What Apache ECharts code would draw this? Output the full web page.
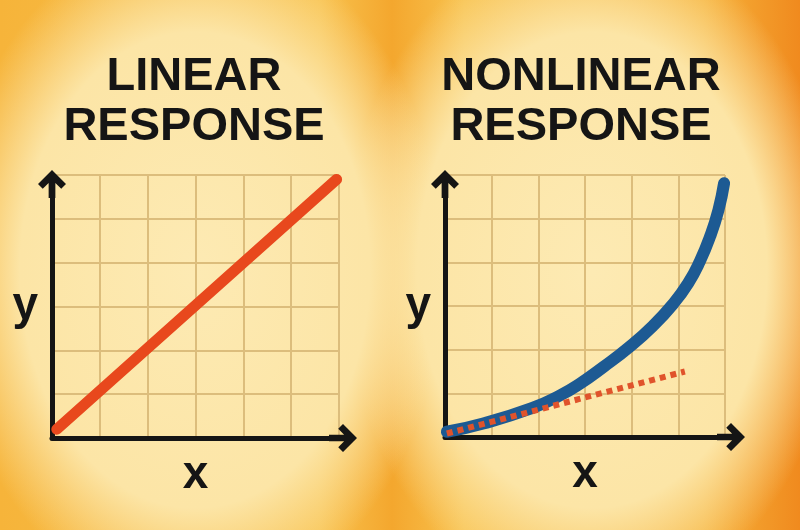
<!DOCTYPE html>
<html>
<head>
<meta charset="utf-8">
<title>Linear vs nonlinear response</title>
<script src="https://cdn.jsdelivr.net/npm/echarts@6/dist/echarts.min.js"></script>
<style>
    html, body {
        margin: 0;
        padding: 0;
    }
    body {
        width: 800px;
        height: 530px;
        overflow: hidden;
        background:
            radial-gradient(ellipse 250px 340px at 195px 270px, #fdeab3 0%, #fce5a6 70%, rgba(250, 205, 110, 0) 100%),
            radial-gradient(ellipse 250px 340px at 592px 270px, #fdeab3 0%, #fce5a6 70%, rgba(250, 205, 110, 0) 100%),
            linear-gradient(90deg, #f6b43a 0%, #f8c24e 40%, #f4a72e 49%, #f8c24e 58%, #f6b23a 88%, #f08a1e 100%);
    }
    #chart {
        width: 800px;
        height: 530px;
    }
</style>
</head>
<body>
<div id="chart"></div>
<script>
// panel titles
const titles = ['LINEAR\nRESPONSE', 'NONLINEAR\nRESPONSE'];
const axisNames = ['x', 'y'];

// left panel: straight response
const linearLine = [[0.1, 0.2], [5.95, 5.9]];

// right panel: curved response and its initial slope
const nonlinearCurve = [
    [0.04, 0.12], [0.82, 0.31], [1.86, 0.66], [2.46, 0.95], [2.89, 1.22],
    [3.39, 1.6], [3.96, 2.07], [4.46, 2.55], [4.89, 3.05], [5.21, 3.52],
    [5.46, 4.02], [5.68, 4.59], [5.86, 5.2], [5.98, 5.81]
];
const tangentLine = [[0.04, 0.08], [5.14, 1.5]];

const INK = '#151515';
const GRID_COLOR = '#dcbd7c';
// open arrow head with a short stem, pointing up
const ARROW = 'path://M50,0 L100,50 L83,67 L62,46 L62,100 L38,100 L38,46 L17,67 L0,50 Z';

const makeAxis = (gridIndex, name, endOffset) => {
    return {
        type: 'value',
        gridIndex,
        min: 0,
        max: 6,
        interval: 1,
        name,
        nameLocation: 'middle',
        nameGap: 14,
        nameRotate: 0,
        nameTextStyle: {
            fontFamily: 'Liberation Sans',
            fontWeight: 'bold',
            fontSize: 46,
            color: INK
        },
        axisLine: {
            onZero: false,
            symbol: ['none', ARROW],
            symbolSize: [28, 28],
            symbolOffset: [0, endOffset],
            lineStyle: { color: INK, width: 5 }
        },
        axisTick: { show: false },
        axisLabel: { show: false },
        splitLine: {
            show: true,
            lineStyle: { color: GRID_COLOR, width: 2 }
        }
    };
};

const titleStyle = {
    fontFamily: 'Liberation Sans',
    fontWeight: 'bold',
    fontSize: 47,
    lineHeight: 50,
    color: INK
};

const chart = echarts.init(document.getElementById('chart'), null, { renderer: 'canvas' });

chart.setOption({
    animation: false,
    title: [
        { text: titles[0], left: 194, top: 52, textAlign: 'center', padding: 0, textStyle: titleStyle },
        { text: titles[1], left: 581, top: 52, textAlign: 'center', padding: 0, textStyle: titleStyle }
    ],
    grid: [
        { left: 52, top: 175, width: 287, height: 263 },
        { left: 445, top: 175, width: 280, height: 262 }
    ],
    xAxis: [
        makeAxis(0, axisNames[0], 4),
        makeAxis(1, axisNames[0], 6)
    ],
    yAxis: [
        makeAxis(0, axisNames[1], -9),
        makeAxis(1, axisNames[1], -9)
    ],
    series: [
        {
            type: 'line',
            xAxisIndex: 0,
            yAxisIndex: 0,
            data: linearLine,
            showSymbol: false,
            clip: false,
            lineStyle: { color: '#e8481d', width: 11, cap: 'round' }
        },
        {
            type: 'line',
            xAxisIndex: 1,
            yAxisIndex: 1,
            data: nonlinearCurve,
            smooth: 0.5,
            showSymbol: false,
            clip: false,
            lineStyle: { color: '#1d5a93', width: 12, cap: 'round', join: 'round' }
        },
        {
            type: 'line',
            xAxisIndex: 1,
            yAxisIndex: 1,
            data: tangentLine,
            showSymbol: false,
            clip: false,
            lineStyle: { color: '#e0532b', width: 6, type: [6, 5], cap: 'butt' }
        }
    ]
});
</script>
</body>
</html>
